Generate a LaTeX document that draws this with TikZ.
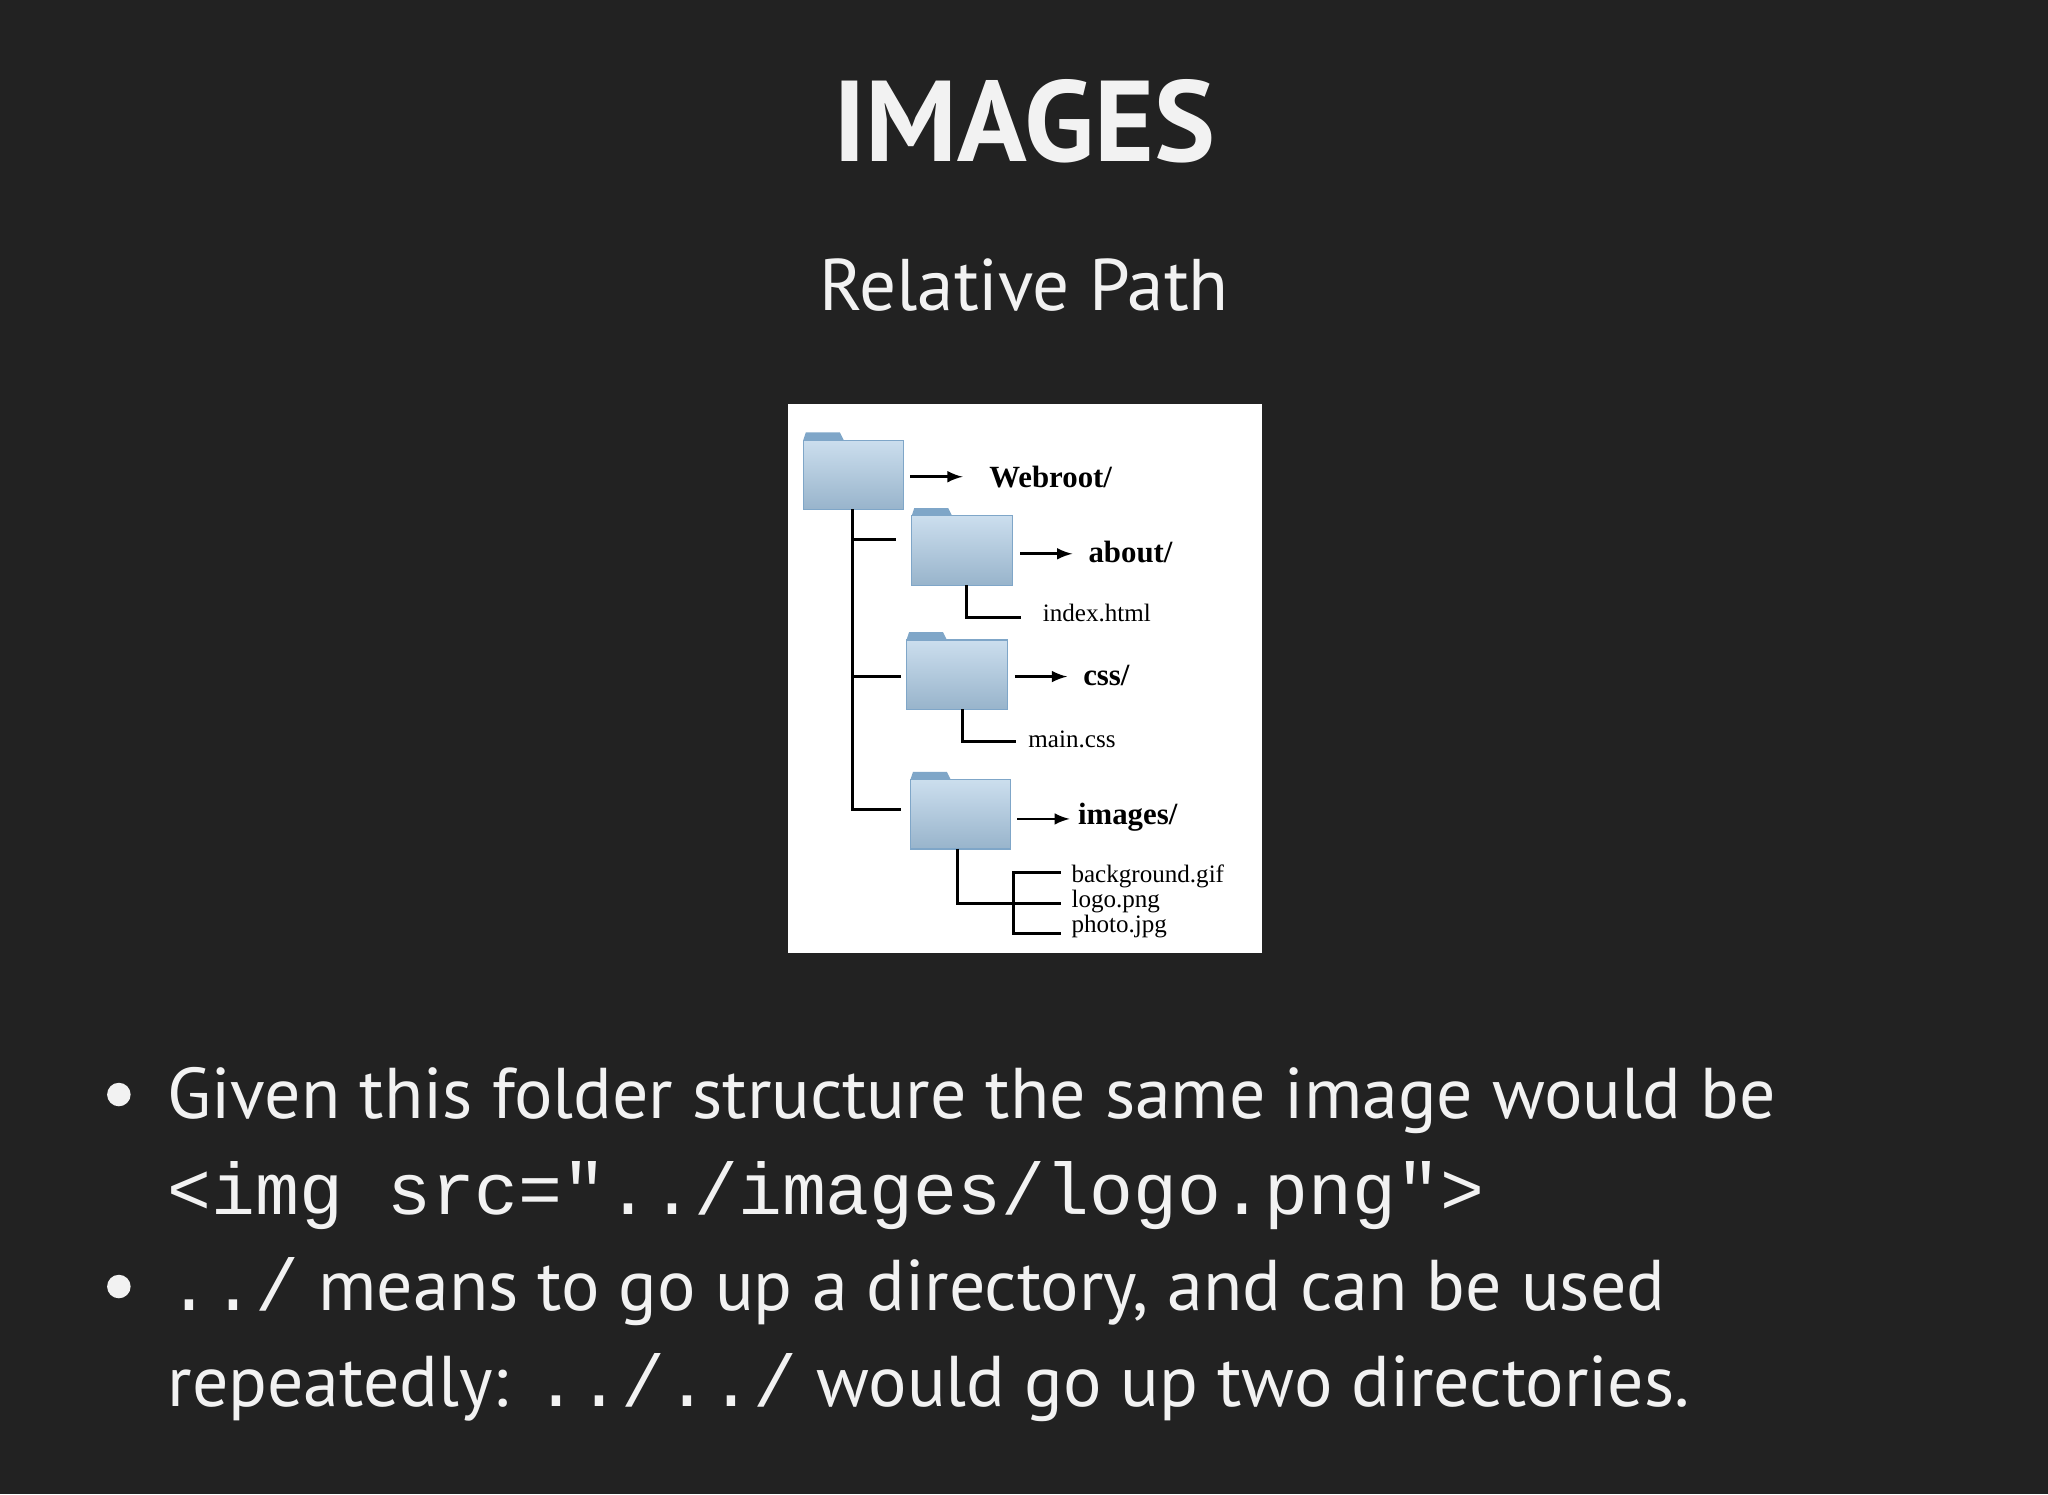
\documentclass[tikz,border=0pt]{standalone}
\usepackage{fontspec}
\setmainfont{PT Sans}
\newfontfamily\monof{Liberation Mono}
\newfontfamily\serf{Liberation Serif}
\definecolor{bg}{HTML}{222222}
\definecolor{fg}{HTML}{F2F2F2}
\definecolor{fold}{HTML}{A9C8E2}
\definecolor{foldd}{HTML}{7FA6C8}
\begin{document}
\begin{tikzpicture}[x=0.5pt,y=-0.5pt,
  txt/.style={anchor=base west,inner sep=0pt,text=fg,font=\fontsize{27.5}{33}\selectfont},
  lab/.style={anchor=west,inner sep=0pt,font=\serf\bfseries\fontsize{11.8}{13}\selectfont},
  small/.style={anchor=west,inner sep=0pt,font=\serf\fontsize{9.6}{10}\selectfont},
  tree/.style={line width=1.2pt,black},
  arr/.style={line width=1pt,-latex}]
\fill[bg] (0,0) rectangle (1568,1144);
\useasboundingbox (0,0) rectangle (1568,1144);
\node[anchor=base,text=fg,font=\bfseries\fontsize{44}{50}\selectfont] (title) at (784,124) {IMAGES};
\node[anchor=base,text=fg,font=\fontsize{28}{34}\selectfont] (sub) at (784,238) {Relative Path};
\fill[white] (603,309) rectangle (966,730);
\foreach \n/\x/\y in {f1/615/331,f2/698/389,f3/694/484,f4/697/591}{
  \fill[foldd] (\x,\y+6) -- (\x+2,\y) -- (\x+28,\y) -- (\x+31,\y+6) -- cycle;
  \shade[top color=fold!60,bottom color=fold!90!black,draw=foldd,line width=0.4pt] (\x,\y+6) rectangle (\x+77,\y+59);
  \coordinate (\n) at (\x,\y);
}
\draw[arr] (697,365) -- (737,365);
\node[lab] (w) at (757,365) {Webroot/};
\draw[arr] (781,424) -- (821,424);
\node[lab] (ab) at (833,423) {about/};
\draw[arr] (777,518) -- (817,518);
\node[lab] (cs) at (829,517) {css/};
\draw[arr] (779,627) -- (819,627);
\node[lab] (im) at (825,626) {images/};
\draw[tree] (653,390) -- (653,620) -- (690,620);
\draw[tree] (653,413) -- (686,413);
\draw[tree] (653,518) -- (690,518);
\draw[tree] (740,448) -- (740,473) -- (782,473);
\node[small] (ix) at (798,469) {index.html};
\draw[tree] (737,543) -- (737,568) -- (778,568);
\node[small] (mc) at (787,566) {main.css};
\draw[tree] (733,650) -- (733,692) -- (776,692);
\draw[tree] (812,668) -- (776,668) -- (776,715) -- (812,715);
\draw[tree] (776,692) -- (812,692);
\node[small] (bg1) at (820,671) {background.gif};
\node[small] (lg) at (820,690) {logo.png};
\node[small] (ph) at (820,709) {photo.jpg};
\fill[fg] (91,838) circle (9);
\fill[fg] (91,985) circle (9);
\node[txt] (l1) at (128,856) {Given this folder structure the same image would be};
\node[txt,font=\monof\fontsize{28}{34}\selectfont] (l2) at (128,930) {<img src="../images/logo.png">};
\node[txt] (l3) at (128,1003) {{\monof\fontsize{28}{33}\selectfont ../} means to go up a directory, and can be used};
\node[txt] (l4) at (128,1077) {repeatedly: {\monof\fontsize{28}{33}\selectfont ../../} would go up two directories.};
\end{tikzpicture}
\end{document}
